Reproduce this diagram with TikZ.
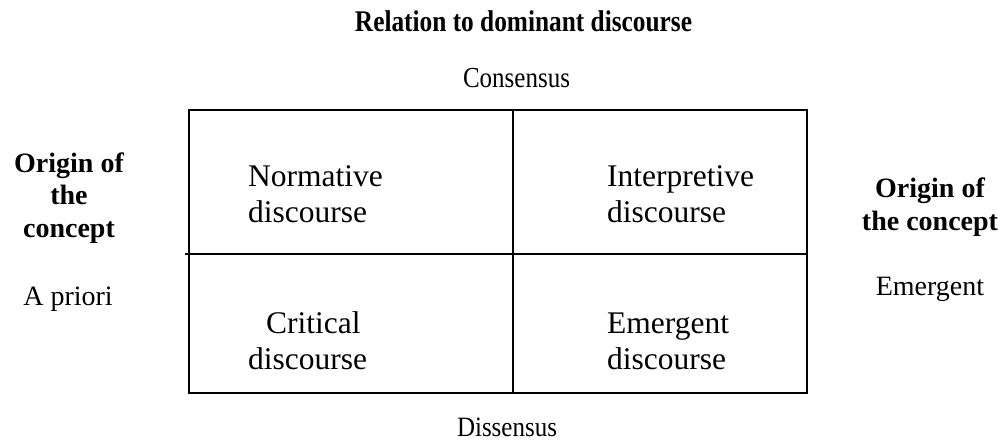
\documentclass[tikz,border=0pt]{standalone}
\usepackage{fontspec}
\setmainfont{Liberation Serif}
\usepackage{graphicx}

\begin{document}
\begin{tikzpicture}[x=1pt,y=-1pt,
  gridline/.style={line width=2pt, black},
  plain/.style={inner sep=0pt, anchor=base},
  celltext/.style={inner sep=0pt, anchor=base west, align=left,
    font=\fontsize{31.5}{35.5}\selectfont},
  sidehead/.style={inner sep=0pt, anchor=base, align=center,
    font=\fontsize{28}{32.5}\selectfont\bfseries},
  sidetext/.style={inner sep=0pt, anchor=base,
    font=\fontsize{28}{32}\selectfont}]

\useasboundingbox (0,0) rectangle (1006,441);

% headings above and below the grid
\node[plain, font=\fontsize{30}{34}\selectfont\bfseries] (title) at (523.5,32)
  {\resizebox{337pt}{\height}{Relation to dominant discourse}};
\node[plain, font=\fontsize{29}{33}\selectfont] (cons) at (516.5,88)
  {\resizebox{107pt}{\height}{Consensus}};
\node[plain, font=\fontsize{28}{32}\selectfont] (diss) at (507,436)
  {\resizebox{100pt}{\height}{Dissensus}};

% the two-by-two grid
\coordinate (tl) at (189,110);
\coordinate (br) at (807,393);
\coordinate (tm) at (513,110);
\coordinate (bm) at (513,393);
\coordinate (ml) at (185,254);
\coordinate (mr) at (807,254);
\draw[gridline] (tl) rectangle (br);
\draw[gridline] (tm) -- (bm);
\draw[gridline] (ml) -- (mr);

% cell contents (anchored at the baseline of the last line)
\node[celltext] (norm) at (248,222) {Normative\\discourse};
\node[celltext] (interp) at (607,222) {Interpretive\\discourse};
\node[celltext] (crit) at (248,369) {\hspace*{18pt}Critical\\discourse};
\node[celltext] (emerg) at (607,369) {Emergent\\discourse};

% side labels
\node[sidehead] (lefthead) at (69,237) {Origin of\\the\\concept};
\node[sidetext] (apriori) at (68,305) {A priori};
\node[sidehead] (righthead) at (930,230) {Origin of\\the concept};
\node[sidetext] (emergent) at (930,295) {Emergent};
\end{tikzpicture}
\end{document}
